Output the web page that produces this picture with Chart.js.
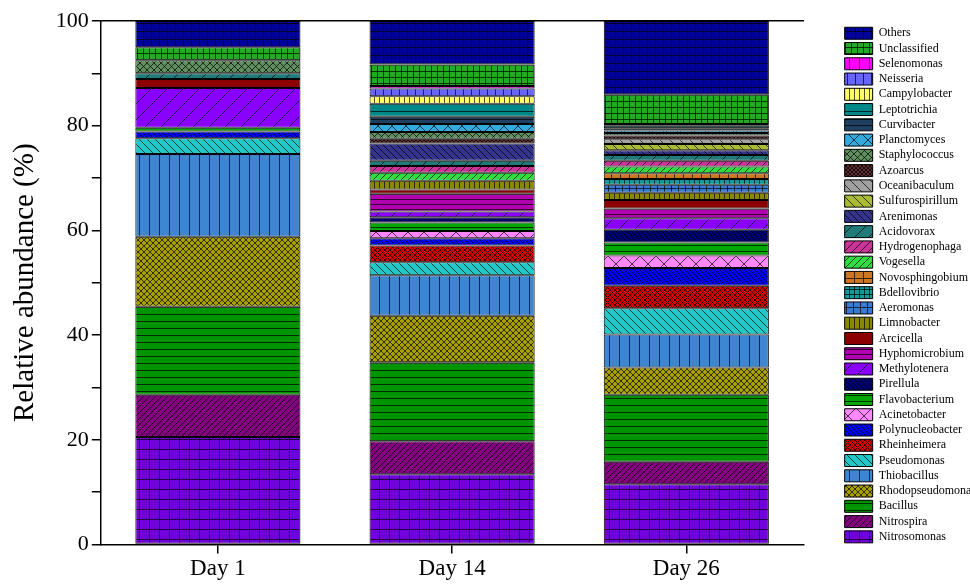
<!DOCTYPE html>
<html>
<head>
<meta charset="utf-8">
<script src="https://cdn.jsdelivr.net/npm/chart.js@4.4.1/dist/chart.umd.min.js"></script>
<style>
  html, body { margin: 0; padding: 0; background: #fff; }
  #wrap { width: 970px; height: 585px; position: relative; }
</style>
</head>
<body>
<div id="wrap"><canvas id="chart"></canvas></div>
<script>
// categories on the x axis
const days = ["Day 1", "Day 14", "Day 26"];

// taxa, bottom of the stack first
const taxa = [
  "Nitrosomonas", "Nitrospira", "Bacillus", "Rhodopseudomonas", "Thiobacillus",
  "Pseudomonas", "Rheinheimera", "Polynucleobacter", "Acinetobacter", "Flavobacterium",
  "Pirellula", "Methylotenera", "Hyphomicrobium", "Arcicella", "Limnobacter",
  "Aeromonas", "Bdellovibrio", "Novosphingobium", "Vogesella", "Hydrogenophaga",
  "Acidovorax", "Arenimonas", "Sulfurospirillum", "Oceanibaculum", "Azoarcus",
  "Staphylococcus", "Planctomyces", "Curvibacter", "Leptotrichia", "Campylobacter",
  "Neisseria", "Selenomonas", "Unclassified", "Others"
];

// relative abundance (%) per day, same order as taxa
const day1 = [20.5, 8.1, 16.8, 13.4, 15.8, 3.0, 0, 1.3, 0, 0.7,
  0, 7.6, 0, 1.7, 0, 0, 0, 0, 0, 0,
  1.1, 0, 0, 0, 0, 2.5, 0, 0, 0, 0,
  0, 0, 2.5, 5.0];
const day14 = [13.4, 6.3, 15.1, 8.9, 7.7, 2.5, 3.2, 1.4, 1.4, 1.6,
  1.0, 1.1, 3.4, 0.8, 1.7, 0, 0, 0, 1.5, 1.3,
  1.0, 3.3, 0, 0, 0.9, 1.3, 1.5, 1.4, 2.5, 1.4,
  1.5, 0.5, 4.1, 8.3];
const day26 = [11.5, 4.3, 12.8, 5.2, 6.3, 5.0, 4.3, 3.4, 2.4, 2.5,
  2.4, 2.2, 1.9, 1.6, 1.4, 1.5, 1.1, 1.1, 1.3, 1.1,
  1.1, 0.9, 1.2, 0.9, 0.7, 0.5, 0.5, 0.4, 0.5, 0.3,
  0, 0, 5.7, 14.0];

const yTicks = [0, 20, 40, 60, 80, 100];

// fill colour + hatch kind + tile size for every taxon
const styles = [
  ["#7200dc", "grid", 10], ["#82007e", "f", 6], ["#009400", "h", 7], ["#a89f00", "x", 6],
  ["#3f86d0", "v", 10], ["#20c8c8", "b", 8], ["#d40000", "x", 5], ["#0000ee", "b", 5],
  ["#ff88ff", "x", 16], ["#00a800", "h", 6], ["#000070", "b", 5], ["#8a00ff", "f", 16],
  ["#b000b0", "h", 5], ["#8b0000", "solid", 8], ["#8a8800", "v", 5], ["#3a7ad0", "grid", 7],
  ["#139a9a", "grid", 5], ["#cc7722", "grid", 9], ["#30dd40", "f", 7], ["#cc3399", "f", 8],
  ["#1f7a7a", "f", 14], ["#34348c", "b", 7], ["#aabb33", "b", 9], ["#a0a0a0", "b", 10],
  ["#603030", "x", 4], ["#5f8f5f", "x", 7], ["#33aadd", "x", 14], ["#1f4060", "h", 6],
  ["#008888", "h", 8], ["#ffff66", "v", 5], ["#6666ff", "v", 8], ["#ff00ff", "v", 10],
  ["#22aa22", "grid", 6], ["#00009a", "grid", 8]
];

function makePattern(color, kind, size) {
  const c = document.createElement("canvas");
  c.width = size;
  c.height = size;
  const g = c.getContext("2d");
  g.fillStyle = color;
  g.fillRect(0, 0, size, size);
  g.strokeStyle = "rgba(0,0,0,0.7)";
  g.lineWidth = 1;
  g.beginPath();
  if (kind === "h" || kind === "grid") {
    g.moveTo(0, size - 0.5); g.lineTo(size, size - 0.5);
  }
  if (kind === "v" || kind === "grid") {
    g.moveTo(size - 0.5, 0); g.lineTo(size - 0.5, size);
  }
  if (kind === "f" || kind === "x") {
    g.moveTo(-1, size + 1); g.lineTo(size + 1, -1);
    g.moveTo(-1, 1); g.lineTo(1, -1);
    g.moveTo(size - 1, size + 1); g.lineTo(size + 1, size - 1);
  }
  if (kind === "b" || kind === "x") {
    g.moveTo(-1, -1); g.lineTo(size + 1, size + 1);
    g.moveTo(size - 1, -1); g.lineTo(size + 1, 1);
    g.moveTo(-1, size - 1); g.lineTo(1, size + 1);
  }
  g.stroke();
  return g.createPattern(c, "repeat");
}

const datasets = taxa.map((name, i) => ({
  label: name,
  data: [day1[i], day14[i], day26[i]],
  backgroundColor: makePattern(styles[i][0], styles[i][1], styles[i][2]),
  borderColor: "#000",
  borderWidth: 1,
  borderSkipped: false,
  barPercentage: 0.705,
  categoryPercentage: 1.0,
}));

// move the legend block to where the reference has it
const LEGEND_DX = 38;
const LEGEND_DY = 11;
const legendShift = {
  id: "legendShift",
  afterLayout(chart) {
    const lg = chart.legend;
    lg.left += LEGEND_DX;
    lg.right += LEGEND_DX;
    lg.top += LEGEND_DY;
    lg.bottom += LEGEND_DY;
  },
};

const serif = "'Liberation Serif', 'Times New Roman', serif";

new Chart(document.getElementById("chart"), {
  type: "bar",
  data: { labels: days, datasets: datasets },
  plugins: [legendShift],
  options: {
    responsive: true,
    maintainAspectRatio: false,
    animation: false,
    layout: { padding: { top: 13, right: 22, bottom: 0, left: 8 } },
    plugins: {
      tooltip: { enabled: false },
      legend: {
        position: "right",
        align: "start",
        reverse: true,
        labels: {
          color: "#000",
          font: { family: serif, size: 12 },
          boxWidth: 28,
          boxHeight: 12,
          padding: 3.26,
        },
      },
    },
    scales: {
      x: {
        stacked: true,
        grid: {
          display: true,
          offset: false,
          drawOnChartArea: false,
          drawTicks: true,
          tickLength: 9,
          color: "#000",
          lineWidth: 1.5,
        },
        border: { display: true, color: "#000", width: 1.5 },
        ticks: { color: "#000", font: { family: serif, size: 23 }, padding: 2 },
      },
      x2: {
        position: "top",
        grid: { display: false },
        ticks: { display: false },
        border: { display: true, color: "#000", width: 1.5 },
      },
      y: {
        stacked: true,
        min: 0,
        max: 100,
        grid: {
          display: true,
          drawOnChartArea: false,
          drawTicks: true,
          tickLength: 9,
          color: "#000",
          lineWidth: 1.5,
        },
        border: { display: true, color: "#000", width: 1.5 },
        ticks: {
          stepSize: 10,
          color: "#000",
          font: { family: serif, size: 22 },
          padding: 3,
          callback: (v) => (yTicks.includes(v) ? v : ""),
        },
        title: {
          display: true,
          text: "Relative abundance (%)",
          color: "#000",
          font: { family: serif, size: 29 },
          padding: { top: 0, bottom: 10 },
        },
      },
    },
  },
});
</script>
</body>
</html>
